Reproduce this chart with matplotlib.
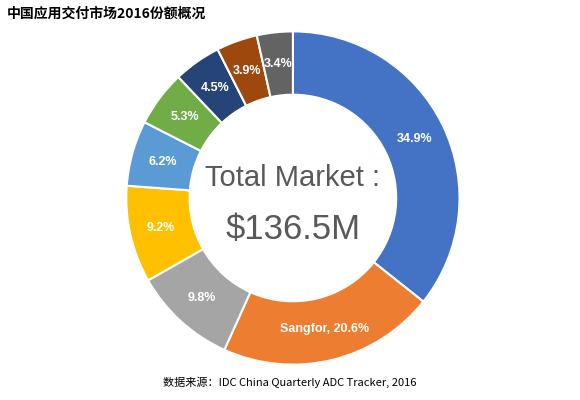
import matplotlib
matplotlib.use("Agg")
import matplotlib.pyplot as plt
import numpy as np

plt.rcParams['font.family'] = ['Noto Sans CJK SC', 'DejaVu Sans']

labels = ["34.9%", "Sangfor, 20.6%", "9.8%", "9.2%", "6.2%", "5.3%", "4.5%", "3.9%", "3.4%"]
values = [34.9, 20.6, 9.8, 9.2, 6.2, 5.3, 4.5, 3.9, 3.4]
colors = ["#4472C4", "#ED7D31", "#A5A5A5", "#FFC000", "#5B9BD5", "#70AD47", "#264478", "#9E480E", "#636363"]

fig = plt.figure(figsize=(5.8, 4.0), dpi=100)
ax = fig.add_axes([0.212, 0.08, 0.586, 0.85])
ax.pie(values, colors=colors, startangle=90, counterclock=False,
       radius=1.0, wedgeprops=dict(width=0.38, edgecolor="white", linewidth=1.5))
total = sum(values)
ang = 90
for v, lab in zip(values, labels):
    mid = np.deg2rad(ang - v / total * 360 / 2)
    ang -= v / total * 360
    r = 0.81
    ax.text(r*np.cos(mid), r*np.sin(mid), lab, ha="center", va="center",
            color="white", fontsize=9, fontweight="bold", family=["Liberation Sans"])
ax.text(0, 0.12, "Total Market :", ha="center", va="center", fontsize=21, color="#595959", family=["Liberation Sans"])
ax.text(0, -0.19, "$136.5M", ha="center", va="center", fontsize=25, color="#595959", family=["Liberation Sans"])
ax.set_aspect("equal")
ax.set_xlim(-1.02, 1.02); ax.set_ylim(-1.02, 1.02)

fig.text(0.012, 0.965, "中国应用交付市场2016份额概况", fontsize=10, fontweight="bold", va="center")
fig.text(0.5, 0.045, "数据来源：IDC China Quarterly ADC Tracker, 2016", fontsize=8, ha="center", va="center")
fig.savefig("out.png", dpi=100)
